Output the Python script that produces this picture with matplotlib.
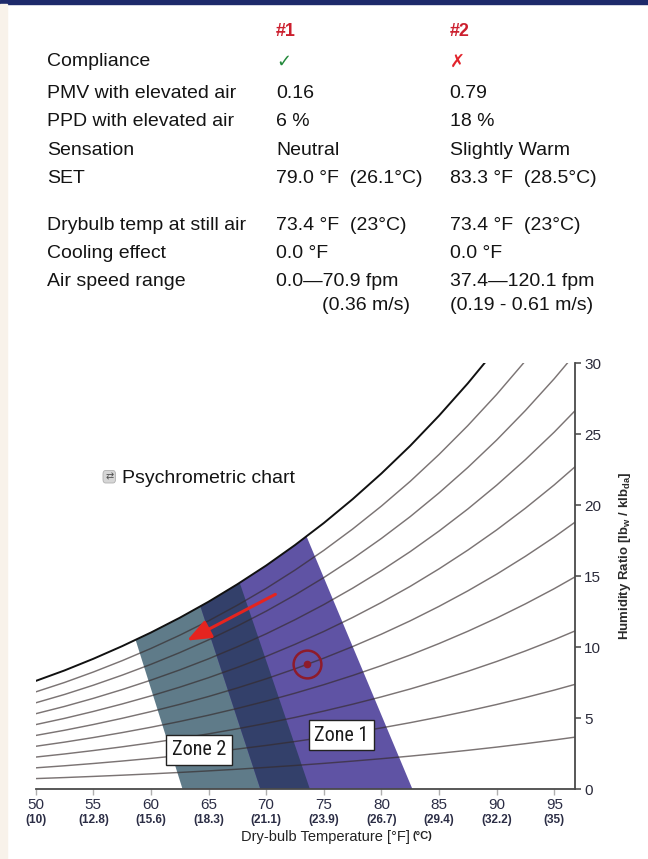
import numpy as np
import matplotlib
matplotlib.use('Agg')
import matplotlib.pyplot as plt
from matplotlib.patches import Polygon, Rectangle, FancyBboxPatch
from matplotlib.transforms import blended_transform_factory
from matplotlib import font_manager

plt.rcParams['font.family'] = ['Liberation Sans', 'DejaVu Sans']
plt.rcParams['mathtext.default'] = 'regular'

# ---------------- data ----------------
# saturation humidity ratio [lb_w / klb_da] vs dry-bulb temperature [F]
TEMP_F = [50, 52.5, 55, 57.5, 60, 62.5, 65, 67.5, 70, 72.5, 75, 77.5,
          80, 82.5, 85, 87.5, 90, 92.5, 95, 97.5]
W_SAT = [7.63, 8.37, 9.19, 10.08, 11.04, 12.08, 13.21, 14.44, 15.76, 17.20,
         18.75, 20.43, 22.24, 24.19, 26.31, 28.59, 31.05, 33.71, 36.57, 39.66]
RH_LEVELS = [0.1, 0.2, 0.3, 0.4, 0.5, 0.6, 0.7, 0.8, 0.9]

X_TICKS_F = [50, 55, 60, 65, 70, 75, 80, 85, 90, 95]
X_TICKS_C = ['(10)', '(12.8)', '(15.6)', '(18.3)', '(21.1)', '(23.9)',
             '(26.7)', '(29.4)', '(32.2)', '(35)']
Y_TICKS = [0, 5, 10, 15, 20, 25, 30]

# zone edges: (T at W=0, T at top, W at top)
ZONE1_LEFT = (69.5, 64.3, 12.86)
ZONE1_RIGHT = (82.7, 73.57, 17.68)
ZONE2_LEFT = (62.75, 58.72, 10.39)
ZONE2_RIGHT = (73.8, 67.77, 14.39)

POINT = (73.5, 8.8)
ARROW_FROM = (70.8, 13.73)
ARROW_TO = (63.13, 10.47)
ZONE_LABELS = ['Zone 1', 'Zone 2']
ZONE_LABEL_POS = [(76.55, 3.82), (64.15, 2.77)]

HEADERS = ['#1', '#2']
ROW_LABELS = ['Compliance', 'PMV with elevated air', 'PPD with elevated air',
              'Sensation', 'SET', 'Drybulb temp at still air',
              'Cooling effect', 'Air speed range']
COL1 = ['\u2713', '0.16', '6 %', 'Neutral', '79.0 \u00b0F  (26.1\u00b0C)',
        '73.4 \u00b0F  (23\u00b0C)', '0.0 \u00b0F', '0.0\u201470.9 fpm']
COL2 = ['\u2717', '0.79', '18 %', 'Slightly Warm', '83.3 \u00b0F  (28.5\u00b0C)',
        '73.4 \u00b0F  (23\u00b0C)', '0.0 \u00b0F', '37.4\u2014120.1 fpm']
EXTRA1 = '(0.36 m/s)'
EXTRA2 = '(0.19 - 0.61 m/s)'

# pick a condensed family for the zone labels if one is installed
_names = {f.name for f in font_manager.fontManager.ttflist}
NARROW = [n for n in ['Liberation Sans Narrow', 'Roboto Condensed', 'Open Sans Condensed',
                      'DejaVu Sans Condensed', 'Noto Sans Condensed'] if n in _names]
NARROW_FAMILY = (NARROW[:1] or ['Liberation Sans']) + ['DejaVu Sans']
NARROW_FS = 14.5 if NARROW else 12.5

# ---------------- figure ----------------
W_PX, H_PX = 648, 859
fig = plt.figure(figsize=(W_PX / 100, H_PX / 100), dpi=100)
fig.patch.set_facecolor('white')


def fx(px):
    return px / W_PX


def fy(py):
    return 1 - py / H_PX


# frame decorations
fig.add_artist(Rectangle((0, fy(3.5)), 1, 3.5 / H_PX, transform=fig.transFigure,
                         color='#1d2a6b', zorder=0))
fig.add_artist(Rectangle((0, 0), 7 / W_PX, fy(3.5), transform=fig.transFigure,
                         color='#f8f2ea', zorder=0))

# ---------------- table ----------------
TXT = '#141414'
FS = 14
col_x = [46.7, 276, 449.6]
row_y = [60, 91.7, 120, 148.3, 176.7, 223.3, 251.7, 280]
base = 6.5
for hx, h in zip(col_x[1:], HEADERS):
    fig.text(fx(hx), fy(29.3 + base), h, fontsize=13, fontweight='bold',
             color='#cc1f2e', ha='left', va='baseline')
for i, (lab, v1, v2) in enumerate(zip(ROW_LABELS, COL1, COL2)):
    yy = fy(row_y[i] + base)
    fig.text(fx(col_x[0]), yy, lab, fontsize=FS, color=TXT, ha='left', va='baseline')
    if i == 0:
        fig.text(fx(col_x[1]), yy, v1, fontsize=13, color='#23893b', ha='left',
                 va='baseline', fontweight='bold')
        fig.text(fx(col_x[2]), yy, v2, fontsize=13, color='#e2242c', ha='left',
                 va='baseline')
    else:
        fig.text(fx(col_x[1]), yy, v1, fontsize=FS, color=TXT, ha='left', va='baseline')
        fig.text(fx(col_x[2]), yy, v2, fontsize=FS, color=TXT, ha='left', va='baseline')
fig.text(fx(321.5), fy(304 + base), EXTRA1, fontsize=FS, color=TXT, ha='left', va='baseline')
fig.text(fx(449.6), fy(304 + base), EXTRA2, fontsize=FS, color=TXT, ha='left', va='baseline')

# "Psychrometric chart" toggle
fig.add_artist(FancyBboxPatch((fx(103), fy(483)), 12.5 / W_PX, 12.5 / H_PX,
                              boxstyle='round,pad=0.0,rounding_size=0.004',
                              transform=fig.transFigure, fc='#d6d6d6', ec='#b0b0b0', lw=0.6))
fig.text(fx(109.2), fy(476.8), '\u21c4', fontsize=7, color='#505050', ha='center',
         va='center', family='DejaVu Sans')
fig.text(fx(121.7), fy(476.7 + base), 'Psychrometric chart', fontsize=FS, color=TXT,
         ha='left', va='baseline')

# ---------------- chart ----------------
x0, x1 = 35.7, 575.0
y0, y1 = 789.3, 363.3
ax = fig.add_axes([fx(x0), fy(y0), (x1 - x0) / W_PX, (y0 - y1) / H_PX])
ax.set_xlim(50, 96.8)
ax.set_ylim(0, 30)
ax.patch.set_alpha(0)

T = np.array(TEMP_F, dtype=float)
WS = np.array(W_SAT, dtype=float)
P_ATM = 101.325
pws = P_ATM * WS / (622.0 + WS)


def edge_T(edge, w):
    tb, tt, wt = edge
    return tb + (tt - tb) * w / wt


def quad(left, right, wtop=34.0):
    return [(edge_T(left, 0), 0), (edge_T(right, 0), 0),
            (edge_T(right, wtop), wtop), (edge_T(left, wtop), wtop)]


sat_region = Polygon(list(zip(T, WS)) + [(T[-1], 0), (T[0], 0)],
                     closed=True, transform=ax.transData)

for verts, col in [(quad(ZONE2_LEFT, ZONE2_RIGHT), '#5f7b89'),
                   (quad(ZONE1_LEFT, ZONE1_RIGHT), '#5f53a4'),
                   (quad(ZONE1_LEFT, ZONE2_RIGHT), '#33406a')]:
    p = Polygon(verts, closed=True, fc=col, ec='none', zorder=1)
    ax.add_patch(p)
    p.set_clip_path(sat_region)

for phi in RH_LEVELS:
    pw = phi * pws
    w = 622.0 * pw / (P_ATM - pw)
    ax.plot(T, w, color='#352a2a', lw=1.05, alpha=0.65, zorder=2,
            solid_capstyle='butt')
ax.plot(T, WS, color='#111111', lw=1.4, zorder=3)

# point + arrow
ax.plot(*POINT, 'o', ms=20, mfc='none', mec='#8e1b2b', mew=1.8, zorder=5)
ax.plot(*POINT, 'o', ms=4.5, color='#8e1b2b', zorder=5)
ax.annotate('', xy=ARROW_TO, xytext=ARROW_FROM,
            arrowprops=dict(arrowstyle='-|>,head_length=0.8,head_width=0.32',
                            color='#e5241f', lw=2.2, mutation_scale=18,
                            shrinkA=0, shrinkB=0), zorder=6)

for lab, (lx, ly) in zip(ZONE_LABELS, ZONE_LABEL_POS):
    ax.text(lx, ly, lab, ha='center', va='center', fontsize=NARROW_FS,
            family=NARROW_FAMILY, color='#1a1a1a', zorder=7,
            bbox=dict(boxstyle='square,pad=0.28', fc='white', ec='#222222', lw=1.0))

# axes styling
for s in ['left', 'top']:
    ax.spines[s].set_visible(False)
for s in ['bottom', 'right']:
    ax.spines[s].set_color('#4a4a4a')
    ax.spines[s].set_linewidth(1.3)
ax.yaxis.tick_right()
ax.set_yticks(Y_TICKS)
ax.set_yticklabels([str(v) for v in Y_TICKS])
ax.tick_params(axis='y', direction='out', length=4.5, width=1.1, color='#444444',
               labelsize=11, pad=2, labelcolor='#2a2a3a')
ax.set_xticks(X_TICKS_F)
ax.set_xticklabels([str(v) for v in X_TICKS_F])
ax.tick_params(axis='x', direction='out', length=4, width=1.0, color='#b0b0b0',
               labelsize=11, pad=2, labelcolor='#2b2d45')
trans = blended_transform_factory(ax.transData, fig.transFigure)
for t, c in zip(X_TICKS_F, X_TICKS_C):
    ax.text(t, fy(820), c, transform=trans, ha='center', va='center', fontsize=8.5,
            fontweight='bold', color='#2b2d45')

fig.text(fx(410), fy(841), 'Dry-bulb Temperature [\u00b0F]', fontsize=10.5,
         color='#222222', ha='right', va='baseline')
fig.text(fx(412), fy(839), '(\u00b0C)', fontsize=8, fontweight='bold',
         color='#222222', ha='left', va='baseline')
fig.text(fx(625), fy(556), r'Humidity Ratio [lb$_{w}$ / klb$_{da}$]', rotation=90,
         fontsize=9.5, fontweight='bold', color='#2a2a2a', ha='center', va='center')

fig.savefig('out.png', dpi=100)
